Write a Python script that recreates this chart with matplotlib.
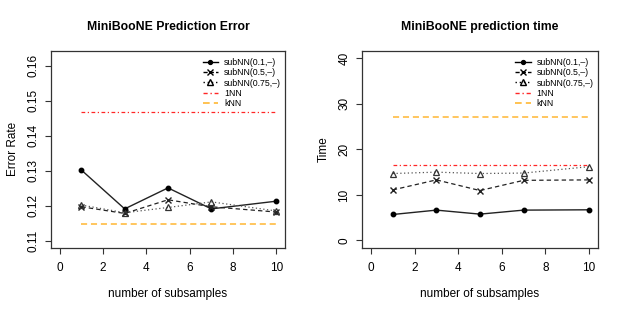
import numpy as np
import matplotlib
matplotlib.use('Agg')
from matplotlib import pyplot as plt
from matplotlib.lines import Line2D

plt.rcParams['font.family'] = ['Liberation Sans', 'DejaVu Sans']

# number of subsamples
n_sub = [1, 3, 5, 7, 10]

# prediction error
err_01 = [0.1302, 0.1191, 0.1251, 0.1191, 0.1213]
err_05 = [0.1197, 0.1178, 0.1217, 0.1197, 0.1182]
err_075 = [0.1202, 0.1180, 0.1195, 0.1211, 0.1185]
err_1nn = 0.1468
err_knn = 0.1147

# prediction time
time_01 = [5.70, 6.66, 5.78, 6.66, 6.73]
time_05 = [11.1, 13.3, 10.96, 13.2, 13.3]
time_075 = [14.7, 15.0, 14.7, 14.8, 16.2]
time_1nn = 16.5
time_knn = 27.1

labels = ['subNN(0.1,\u2013)', 'subNN(0.5,\u2013)', 'subNN(0.75,\u2013)', '1NN', 'kNN']

red = '#FF0000'
orange = '#FFA500'


def panel(ax, s01, s05, s075, v1nn, vknn, title, ylabel, ylim, yticks, yfmt):
    ax.plot(n_sub, s01, color='#222222', lw=1, ls='-', marker='o', ms=3.2,
            mfc='black', mec='black')
    ax.plot(n_sub, s05, color='#222222', lw=0.9, ls=(0, (3.5, 2.5)), marker='x',
            ms=4.5, mew=1, mec='#222222')
    ax.plot(n_sub, s075, color='#555555', lw=0.9, ls=(0, (1, 2)), marker='^',
            ms=5, mfc='none', mec='#333333', mew=0.9)
    ax.plot([n_sub[0], n_sub[-1]], [v1nn, v1nn], color=red, lw=0.9,
            ls=(0, (3, 2, 1, 2)), alpha=0.85)
    ax.plot([n_sub[0], n_sub[-1]], [vknn, vknn], color=orange, lw=1.1,
            ls=(0, (4, 2.5)), alpha=0.8)
    ax.set_xlim(-0.4, 10.4)
    ax.set_ylim(*ylim)
    ax.set_xticks([0, 2, 4, 6, 8, 10])
    ax.set_yticks(yticks)
    ax.set_yticklabels([yfmt % v for v in yticks], rotation=90, va='center')
    ax.tick_params(direction='out', length=4.5, width=0.8, color='#333333',
                   labelsize=8.5)
    ax.tick_params(axis='x', pad=6)
    ax.tick_params(axis='y', pad=4)
    for s in ax.spines.values():
        s.set_linewidth(0.9)
        s.set_color('#333333')
    ax.set_title(title, fontsize=8.8, fontweight='bold', pad=15)
    ax.set_xlabel('number of subsamples', fontsize=8.5, labelpad=10)
    ax.set_ylabel(ylabel, fontsize=8.5, labelpad=6)

    handles = [
        Line2D([], [], color='black', lw=1, marker='o', ms=2.8),
        Line2D([], [], color='black', lw=1, ls=(0, (3, 1.5)), marker='x', ms=3.8),
        Line2D([], [], color='black', lw=1, ls=(0, (1, 2)), marker='^', ms=3.8,
               mfc='none'),
        Line2D([], [], color=red, lw=1, ls=(0, (3, 2, 1, 2)), alpha=0.85),
        Line2D([], [], color=orange, lw=1.2, ls=(0, (4, 2.5)), alpha=0.8),
    ]
    ax.legend(handles, labels, loc='upper right', bbox_to_anchor=(0.983, 0.966),
              frameon=False, fontsize=6.3, handlelength=1.8, handletextpad=0.65,
              labelspacing=0.16, borderaxespad=0, borderpad=0)


fig = plt.figure(figsize=(6.23, 3.12), dpi=100)
ax1 = fig.add_axes([0.0819, 0.206, 0.3756, 0.6304])
ax2 = fig.add_axes([0.5815, 0.206, 0.3778, 0.6304])

panel(ax1, err_01, err_05, err_075, err_1nn, err_knn,
      'MiniBooNE Prediction Error', 'Error Rate', (0.1080, 0.1642),
      [0.11, 0.12, 0.13, 0.14, 0.15, 0.16], '%.2f')
panel(ax2, time_01, time_05, time_075, time_1nn, time_knn,
      'MiniBooNE prediction time', 'Time', (-1.6, 41.6),
      [0, 10, 20, 30, 40], '%d')

fig.savefig('out.png', dpi=100)
